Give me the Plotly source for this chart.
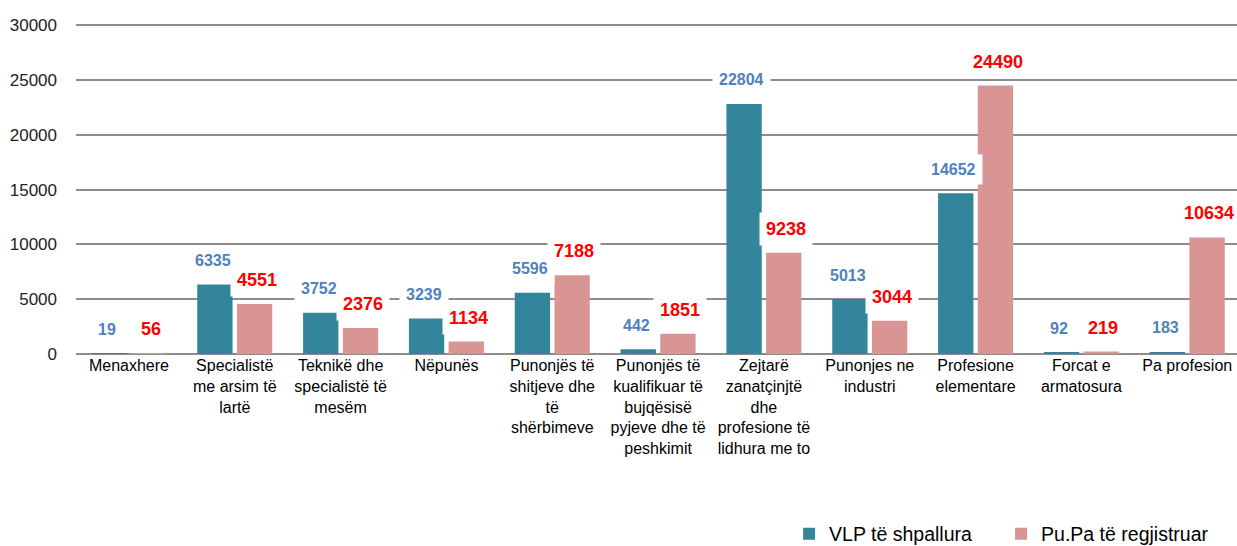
import plotly.graph_objects as go

categories = [
    "Menaxhere",
    "Specialistë<br>me arsim të<br>lartë",
    "Teknikë dhe<br>specialistë të<br>mesëm",
    "Nëpunës",
    "Punonjës të<br>shitjeve dhe<br>të<br>shërbimeve",
    "Punonjës të<br>kualifikuar të<br>bujqësisë<br>pyjeve dhe të<br>peshkimit",
    "Zejtarë<br>zanatçinjtë<br>dhe<br>profesione të<br>lidhura me to",
    "Punonjes ne<br>industri",
    "Profesione<br>elementare",
    "Forcat e<br>armatosura",
    "Pa profesion",
]
vlp_values = [19, 6335, 3752, 3239, 5596, 442, 22804, 5013, 14652, 92, 183]
pupa_values = [56, 4551, 2376, 1134, 7188, 1851, 9238, 3044, 24490, 219, 10634]
series_names = ["VLP të shpallura", "Pu.Pa të regjistruar"]
y_ticks = [0, 5000, 10000, 15000, 20000, 25000, 30000]
y_tick_text = ["0", "5000", "10000", "15000", "20000", "25000", "30000"]

TEAL = "#33859b"
PINK = "#d99594"
BLUE_LBL = "#4f81bd"
RED_LBL = "#ff0000"
FONT = "Liberation Sans Narrow, Arial Narrow, Liberation Sans, Arial, sans-serif"

fig = go.Figure()
fig.add_trace(go.Bar(x=categories, y=vlp_values, name=series_names[0],
                     marker=dict(color=TEAL, line=dict(width=0))))
fig.add_trace(go.Bar(x=categories, y=pupa_values, name=series_names[1],
                     marker=dict(color=PINK, line=dict(width=0))))

annotations = []
for c, v in zip(categories, vlp_values):
    annotations.append(dict(x=c, y=v, xref="x", yref="y", text="<b>%d</b>" % v, showarrow=False,
                            xshift=-22, yshift=24, yanchor="middle",
                            font=dict(family=FONT, size=16, color=BLUE_LBL),
                            bgcolor="white", borderpad=6))
for c, v in zip(categories, pupa_values):
    annotations.append(dict(x=c, y=v, xref="x", yref="y", text="<b>%d</b>" % v, showarrow=False,
                            xshift=22, yshift=24, yanchor="middle",
                            font=dict(family=FONT, size=18, color=RED_LBL),
                            bgcolor="white", borderpad=6))

fig.update_layout(
    width=1237, height=546,
    margin=dict(l=76, r=0, t=24, b=192, autoexpand=False),
    paper_bgcolor="white", plot_bgcolor="white",
    barmode="group", bargap=0.25, bargroupgap=0.11,
    font=dict(family=FONT, size=16, color="#000000"),
    showlegend=True,
    legend=dict(orientation="h", x=0.6142, xanchor="left", xref="paper",
                y=0.022, yanchor="middle", yref="container",
                entrywidth=167, entrywidthmode="pixels",
                font=dict(family=FONT, size=19.5, color="#000000"),
                itemsizing="constant", traceorder="normal"),
    annotations=annotations,
)
fig.update_xaxes(showgrid=False, showline=False, ticks="", tickangle=0,
                 range=[-0.5, 10.47],
                 tickfont=dict(family=FONT, size=16, color="#000000"))
fig.update_yaxes(range=[0, 30100], tickvals=y_ticks, ticktext=y_tick_text,
                 showgrid=True, gridcolor="#8c8c8c",
                 gridwidth=2, zeroline=True, zerolinecolor="#8c8c8c", zerolinewidth=2,
                 showline=False, ticks="", ticklabelstandoff=18,
                 tickfont=dict(family="Liberation Sans, Arial, sans-serif", size=17, color="#222222"))

fig.write_html("out.html", config={"displayModeBar": False},
               post_script="document.body.style.margin='0';document.body.style.padding='0';")
